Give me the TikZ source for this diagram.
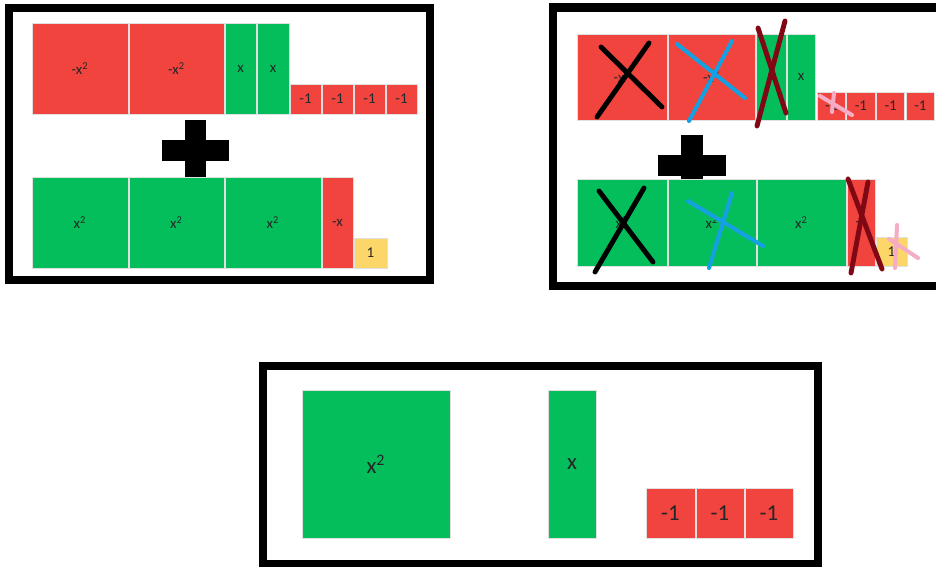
\documentclass[tikz,border=0pt]{standalone}
\usepackage{fontspec}
\setmainfont{Carlito}
\definecolor{tilered}{RGB}{242,68,62}
\definecolor{tilegreen}{RGB}{4,190,92}
\definecolor{tileyellow}{RGB}{252,214,104}
\definecolor{markblue}{RGB}{20,160,225}
\definecolor{markbrown}{RGB}{128,8,20}
\definecolor{markpink}{RGB}{245,172,196}
\tikzset{
  frame/.style={line width=4.6pt},
  redtile/.style={fill=tilered,draw=black!12,line width=0.5pt},
  greentile/.style={fill=tilegreen,draw=black!12,line width=0.5pt},
  yellowtile/.style={fill=tileyellow,draw=black!12,line width=0.5pt},
  lbl/.style={text=black!85,inner sep=0pt,font=\fontsize{8.5}{9}\selectfont},
  biglbl/.style={text=black!85,inner sep=0pt,font=\fontsize{13}{15}\selectfont},
  cross/.style={line width=2.8pt,line cap=round},
}
\newcommand{\xsq}{x\textsuperscript{2}}
\begin{document}
\begin{tikzpicture}[x=0.02cm,y=-0.02cm]
    \useasboundingbox (0,0) rectangle (936,567);
    % left panel
    \draw[frame] (9,8) rectangle (430,280);
    \draw[redtile] (32,23) rectangle (128,114) node[midway,lbl] (a1) {-\xsq};
    \draw[redtile] (129,23) rectangle (224,114) node[midway,lbl] (a2) {-\xsq};
    \draw[greentile] (225,23) rectangle (256,114) node[midway,lbl] (a3) {x};
    \draw[greentile] (257,23) rectangle (289,114) node[midway,lbl] (a4) {x};
    \foreach \i in {0,...,3}
      \draw[redtile] (290+32*\i,84) rectangle (321+32*\i,114) node[midway,lbl] {-1};
    \fill (162,140) rectangle (229,161);
    \fill (185,120) rectangle (206,181);
    \draw[greentile] (32,177) rectangle (128,268) node[midway,lbl] (b1) {\xsq};
    \draw[greentile] (129,177) rectangle (224,268) node[midway,lbl] (b2) {\xsq};
    \draw[greentile] (225,177) rectangle (321,268) node[midway,lbl] (b3) {\xsq};
    \draw[redtile] (322,177) rectangle (353,268) node[midway,lbl] (b4) {-x};
    \draw[yellowtile] (354,238) rectangle (387,268) node[midway,lbl] (b5) {1};
    % right panel
    \draw[frame] (553,7.5) rectangle (945,286);
    \draw[redtile] (577,34) rectangle (667,120) node[midway,lbl] (c1) {-\xsq};
    \draw[redtile] (668,34) rectangle (755,120) node[midway,lbl] (c2) {-\xsq};
    \draw[greentile] (756,34) rectangle (786,120) node[midway,lbl] (c3) {x};
    \draw[greentile] (787,34) rectangle (815,120) node[midway,lbl] (c4) {x};
    \foreach \i in {0,...,3}
      \draw[redtile] (817+29.7*\i,92) rectangle (845.5+29.7*\i,120) node[midway,lbl] {-1};
    \fill (658,155) rectangle (726,176);
    \fill (681,135) rectangle (703,196);
    \draw[greentile] (577,179) rectangle (667,266) node[midway,lbl] (d1) {\xsq};
    \draw[greentile] (668,179) rectangle (756,266) node[midway,lbl] (d2) {\xsq};
    \draw[greentile] (757,179) rectangle (846,266) node[midway,lbl] (d3) {\xsq};
    \draw[redtile] (847,179) rectangle (875,266) node[midway,lbl] (d4) {-x};
    \draw[yellowtile] (876,237) rectangle (907,266) node[midway,lbl] (d5) {1};
    % crossing out
    \draw[cross] (597,117) -- (649,43);
    \draw[cross] (601,47) -- (662,107);
    \draw[cross,markblue,line width=2.3pt] (677,44) -- (745,98);
    \draw[cross,markblue,line width=2.3pt] (732,41) -- (689,121);
    \draw[cross,markbrown] (758,28) -- (786,113);
    \draw[cross,markbrown] (785,21) -- (757,126);
    \draw[cross,markpink,line width=2.3pt] (820,96) -- (852,115);
    \draw[cross,markpink,line width=2.3pt] (834,93) -- (832,112);
    \draw[cross] (595,272) -- (644,188);
    \draw[cross] (599,191) -- (653,262);
    \draw[cross,markblue,line width=2.3pt] (688,201) -- (763,246);
    \draw[cross,markblue,line width=2.3pt] (732,193) -- (709,268);
    \draw[cross,markbrown] (848,179) -- (882,269);
    \draw[cross,markbrown] (868,182) -- (851,273);
    \draw[cross,markpink,line width=2.3pt] (897,225) -- (895,268);
    \draw[cross,markpink,line width=2.3pt] (889,239) -- (918,258);
    % bottom panel
    \draw[frame] (263,366) rectangle (818,564);
    \draw[greentile] (302,390) rectangle (450,538) node[midway,biglbl] (e1) {\xsq};
    \draw[greentile] (548,390) rectangle (596,538) node[midway,biglbl] (e2) {x};
    \draw[redtile] (646,488) rectangle (695,538) node[midway,biglbl] (e3) {-1};
    \draw[redtile] (696,488) rectangle (744,538) node[midway,biglbl] (e4) {-1};
    \draw[redtile] (745,488) rectangle (793,538) node[midway,biglbl] (e5) {-1};
\end{tikzpicture}
\end{document}
